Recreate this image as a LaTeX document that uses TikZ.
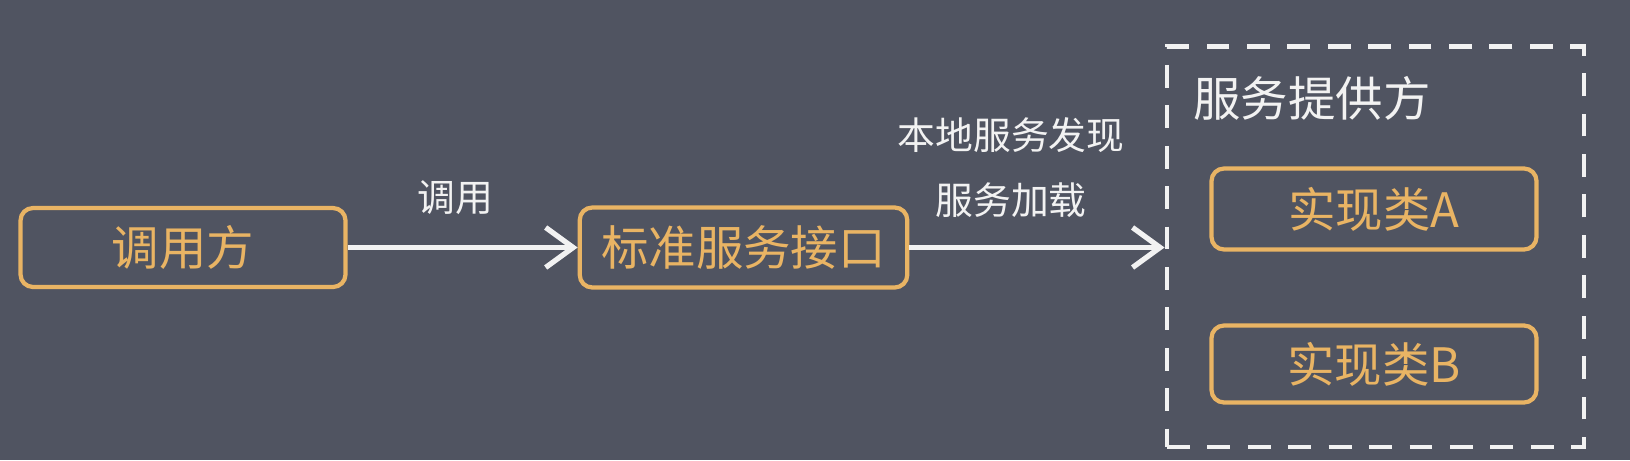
\documentclass[tikz,border=0pt]{standalone}
\usepackage{fontspec}
\newfontfamily\cjk{Noto Sans CJK SC}
\usetikzlibrary{arrows.meta}
\definecolor{bgdark}{RGB}{80,84,97}
\definecolor{boxorange}{RGB}{233,180,100}
\definecolor{labelwhite}{RGB}{242,242,242}

\begin{document}
\begin{tikzpicture}[
  part/.style={draw=boxorange, line width=2.4pt, rounded corners=0.25cm, text=boxorange,
    font=\cjk\fontsize{27}{32}\selectfont, minimum width=6.5cm, minimum height=1.58cm, inner sep=0pt},
  lbl/.style={text=labelwhite, font=\cjk\fontsize{21.5}{26}\selectfont, inner sep=0pt},
  call/.style={-{Straight Barb[length=0.55cm,width=0.8cm]}, line width=3pt, draw=labelwhite}
]
% Background
\fill[bgdark] (0,0) rectangle (32.6,9.2);

% Caller and interface
\node[part] (caller) at (3.66,4.25) {调用方};
\node[part, minimum width=6.55cm, minimum height=1.6cm] (iface) at (14.87,4.25) {标准服务接口};

% Provider (dashed)
\node[draw=labelwhite, dash pattern=on 13pt off 10pt, line width=2.8pt, minimum width=8.34cm, minimum height=8.01cm] (prov) at (27.51,4.265) {};
\node[lbl, anchor=west, font=\cjk\fontsize{27}{32}\selectfont] (provtitle) at (23.86,7.23) {服务提供方};
\node[part, minimum height=1.62cm] (implA) at (27.48,5.02) {实现类A};
\node[part, minimum height=1.54cm] (implB) at (27.48,1.92) {实现类B};

% Arrows
\draw[call] (caller) -- (iface);
\draw[call] (iface.east) -- (iface.east -| prov.west);

% Labels
\node[lbl] (calllbl) at (9.11,5.25) {调用};
\node[lbl] (findlbl) at (20.22,6.5) {本地服务发现};
\node[lbl] (loadlbl) at (20.22,5.19) {服务加载};
\end{tikzpicture}
\end{document}
